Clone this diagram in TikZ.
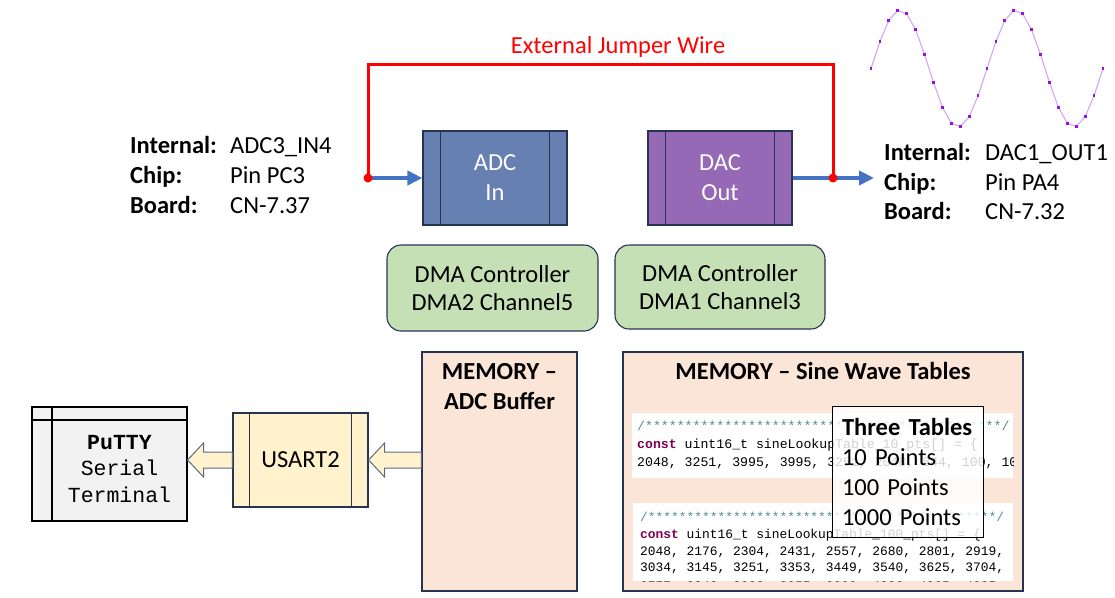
\documentclass[tikz,border=0pt]{standalone}
\usepackage{fontspec}
\setmainfont{Carlito}
\setmonofont{Liberation Mono}
\usetikzlibrary{positioning,calc,arrows.meta}

\definecolor{edgecol}{HTML}{263452}
\definecolor{adcfill}{HTML}{6780B2}
\definecolor{dacfill}{HTML}{9669B6}
\definecolor{dmafill}{HTML}{C5E0B4}
\definecolor{memfill}{HTML}{FBE5D6}
\definecolor{usartfill}{HTML}{FFF2CC}
\definecolor{puttyfill}{HTML}{F2F2F2}
\definecolor{sigblue}{HTML}{4472C4}
\definecolor{wirered}{HTML}{FF0000}
\definecolor{sinecol}{HTML}{D4A6F2}
\definecolor{sinedot}{HTML}{9A10DC}
\definecolor{cmtcol}{HTML}{4F8F8F}
\definecolor{kwcol}{HTML}{7F0055}
\definecolor{arrcol}{HTML}{5A6A85}

\tikzset{
  box/.style={draw=edgecol, line width=1.1pt, align=center, inner sep=0pt,
    font=\fontsize{24.5}{30}\selectfont},
  dmabox/.style={box, fill=dmafill, rounded corners=14pt,
    font=\fontsize{24.5}{28}\selectfont},
  membox/.style={box, fill=memfill},
  title/.style={align=center, inner sep=0pt, font=\fontsize{24.5}{30}\selectfont\bfseries},
  pinlabel/.style={anchor=base west, inner sep=0pt, font=\fontsize{24.5}{30}\selectfont\bfseries},
  pinvalue/.style={anchor=base west, inner sep=0pt, font=\fontsize{24.5}{30}\selectfont},
  code/.style={anchor=base west, inner sep=0pt, font=\fontsize{13.2}{16}\ttfamily},
  codebg/.style={fill=white, inner sep=0pt},
  sig/.style={draw=sigblue, line width=4pt, -{Triangle[length=15pt,width=14pt]}},
  wire/.style={draw=wirered, line width=3pt},
  blockarr/.style={draw=arrcol, line width=1pt, fill=usartfill, line join=miter},
}

% inner bars of a predefined-process box
\newcommand{\predefbars}[2]{
  \draw[edgecol, line width=1.1pt] ([xshift=#2]#1.north west) -- ([xshift=#2]#1.south west);
  \draw[edgecol, line width=1.1pt] ([xshift=-#2]#1.north east) -- ([xshift=-#2]#1.south east);
}
% fat arrow: #1 tail, #2 tip
\newcommand{\blockarrow}[2]{
  \draw[blockarr] (#2) -- ++(16,-17) -- ++(0,9) -- ($(#1)+(0,-8)$)
    -- ($(#1)+(0,8)$) -- ($(#2)+(16,8)$) -- ++(0,9) -- cycle;
}

\begin{document}
\begin{tikzpicture}[x=1pt, y=-1pt]
  \useasboundingbox (0,0) rectangle (1115,597);

  % Converters
  \node[box, fill=adcfill, text=white, minimum width=144pt, minimum height=94pt] (adc) at (495,178) {ADC\\In};
  \node[box, fill=dacfill, text=white, minimum width=144pt, minimum height=94pt] (dac) at (720,178) {DAC\\Out};
  \predefbars{adc}{18pt}
  \predefbars{dac}{18pt}

  % DMA controllers
  \node[dmabox, minimum width=211pt, minimum height=86pt] (dma2) at (492.5,288) {DMA Controller\\DMA2 Channel5};
  \node[dmabox, minimum width=210pt, minimum height=84pt] (dma1) at (720,287) {DMA Controller\\DMA1 Channel3};

  % Pins
  \coordinate (jadc) at (368,178);
  \coordinate (jdac) at (833,178);
  \coordinate (dacpin) at (874,178);
  \coordinate (wl) at (368,64);
  \coordinate (wr) at (833,64);
  \draw[sig] (jadc) -- (adc.west);
  \draw[sig] (dac.east) -- (dacpin);
  \draw[wire] (jadc) -- (wl) -- (wr) -- (jdac);
  \fill[wirered] (jadc) circle (4.5pt);
  \fill[wirered] (jdac) circle (4.5pt);
  \node[inner sep=0pt, text=wirered, font=\fontsize{24.5}{30}\selectfont] (jumper) at (618,47) {External Jumper Wire};

  \node[pinlabel] (inl) at (130,153) {Internal:};
  \node[pinlabel] (chl) at (130,183) {Chip:};
  \node[pinlabel] (bol) at (130,213) {Board:};
  \node[pinvalue] (inv) at (230,153) {ADC3\_IN4};
  \node[pinvalue] (chv) at (230,183) {Pin PC3};
  \node[pinvalue] (bov) at (230,213) {CN-7.37};

  \node[pinlabel] (inr) at (884,160) {Internal:};
  \node[pinlabel] (chr) at (884,190) {Chip:};
  \node[pinlabel] (bor) at (884,219) {Board:};
  \node[pinvalue] (inw) at (985,160) {DAC1\_OUT1};
  \node[pinvalue] (chw) at (985,190) {Pin PA4};
  \node[pinvalue] (bow) at (985,219) {CN-7.32};

  % Sine output
  \draw[sinecol, line width=1.1pt] plot[domain=0:26, samples=27] ({871+\x*8.923}, {68.5-58.5*sin(\x*360/13)});
  \foreach \k in {0,...,26}
    \fill[sinedot] ({871+\k*8.923-1.4}, {68.5-58.5*sin(\k*360/13)-1.4}) rectangle ++(2.8,2.8);

  % Memory
  \node[membox, minimum width=155pt, minimum height=239pt] (memadc) at (499.5,471.5) {};
  \node[title] (memadct) at (499.5,387) {MEMORY –\\ADC Buffer};
  \node[membox, minimum width=400pt, minimum height=239pt] (memsine) at (823,471.5) {};
  \node[title] (memsinet) at (823,371) {MEMORY – Sine Wave Tables};

  \node[codebg, minimum width=381pt, minimum height=65pt] (code10) at (822.5,445.5) {};
  \node[codebg, minimum width=380pt, minimum height=78pt] (code100) at (823,542) {};
  \begin{scope}
    \clip (code10.north west) rectangle (code10.south east);
    \node[code, text=cmtcol] (c10a) at (637,430) {/*********************************************/};
    \node[code] (c10b) at (637,448.5) {\textcolor{kwcol}{\textbf{const}} uint16\_t sineLookupTable\_10\_pts[] = \{};
    \node[code] (c10c) at (637,466.5) {2048, 3251, 3995, 3995, 3251, 2048, 844, 100, 100, 844\};};
  \end{scope}
  \begin{scope}
    \clip (code100.north west) rectangle (code100.south east);
    \node[code, text=cmtcol, font=\fontsize{12.9}{16}\ttfamily] (c100a) at (640,521) {/*********************************************/};
    \node[code, font=\fontsize{12.9}{16}\ttfamily] (c100b) at (640,538) {\textcolor{kwcol}{\textbf{const}} uint16\_t sineLookupTable\_100\_pts[] = \{};
    \node[code, font=\fontsize{12.9}{16}\ttfamily] (c100c) at (640,555.5) {2048, 2176, 2304, 2431, 2557, 2680, 2801, 2919,};
    \node[code, font=\fontsize{12.9}{16}\ttfamily] (c100d) at (640,571.5) {3034, 3145, 3251, 3353, 3449, 3540, 3625, 3704,};
    \node[code, font=\fontsize{12.9}{16}\ttfamily] (c100e) at (640,590) {3777, 3843, 3903, 3955, 3999, 4036, 4065, 4085,};
  \end{scope}

  \node[draw=black, line width=1pt, fill=white, fill opacity=0.82, text opacity=1,
    text width=131pt, inner xsep=10pt, inner ysep=0pt, minimum height=131pt, align=left,
    font=\fontsize{24.5}{30}\selectfont] (tables) at (907.5,471.5)
    {\textbf{Three Tables}\\10 Points\\100 Points\\1000 Points};

  % Serial path
  \node[box, fill=usartfill, minimum width=135pt, minimum height=94pt] (usart) at (300.5,460) {USART2};
  \predefbars{usart}{17pt}
  \node[box, draw=black, fill=puttyfill, minimum width=155pt, minimum height=114pt] (putty) at (109.5,464) {};
  \draw[black, line width=1.1pt] (putty.north west -| 52,0) -- (putty.south west -| 52,0);
  \draw[black, line width=1.1pt] (putty.west |- 0,420) -- (putty.east |- 0,420);
  \node[align=center, inner sep=0pt, font=\fontsize{21.5}{26.5}\ttfamily] (puttyt) at (119.5,469)
    {\textbf{PuTTY}\\Serial\\Terminal};

  \coordinate (tip1) at (putty.east |- usart.west);
  \coordinate (tail2) at (memadc.west |- usart.east);
  \blockarrow{usart.west}{tip1}
  \blockarrow{tail2}{usart.east}
\end{tikzpicture}
\end{document}
